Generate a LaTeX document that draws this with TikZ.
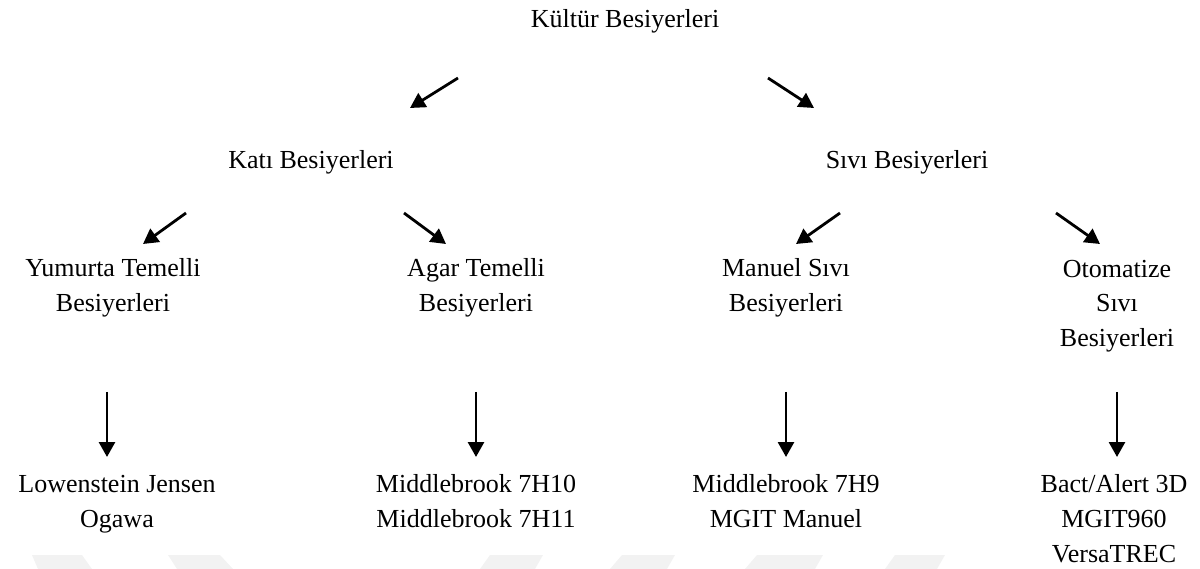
\documentclass[tikz,border=0pt]{standalone}
\usepackage{fontspec}
\setmainfont{Liberation Serif}
\usetikzlibrary{arrows.meta}
\begin{document}
\begin{tikzpicture}[x=1pt,y=-1pt,
  lbl/.style={inner sep=0pt, anchor=base, align=center,
    font=\fontsize{26}{35}\selectfont},
  arr/.style={line width=2.8pt, -{Triangle[length=15pt,width=16pt]}},
  wm/.style={fill=black!5, draw=none}]
\useasboundingbox (0,0) rectangle (1200,569);
% faint watermark shapes
\fill[wm] (32,555) -- (82,555) -- (92,569) -- (38,569) -- cycle;
\fill[wm] (168,555) -- (220,555) -- (233,569) -- (177,569) -- cycle;
\fill[wm] (490,555) -- (543,555) -- (535,569) -- (480,569) -- cycle;
\fill[wm] (622,555) -- (675,555) -- (667,569) -- (610,569) -- cycle;
\fill[wm] (757,555) -- (823,555) -- (815,569) -- (745,569) -- cycle;
\fill[wm] (895,555) -- (945,555) -- (937,569) -- (885,569) -- cycle;
% nodes (base = baseline of the last line)
\node[lbl] (kultur) at (625,28) {Kültür Besiyerleri};
\node[lbl] (kati) at (311,169) {Katı Besiyerleri};
\node[lbl] (sivi) at (907,169) {Sıvı Besiyerleri};
\node[lbl] (yum) at (113,312) {Yumurta Temelli\\Besiyerleri};
\node[lbl] (agar) at (476,312) {Agar Temelli\\Besiyerleri};
\node[lbl] (man) at (786,312) {Manuel Sıvı\\Besiyerleri};
\node[lbl] (oto) at (1117,347) {Otomatize\\Sıvı\\Besiyerleri};
\node[lbl] (lj) at (117,527) {Lowenstein Jensen\\Ogawa};
\node[lbl] (mb10) at (476,527) {Middlebrook 7H10\\Middlebrook 7H11};
\node[lbl] (mb9) at (786,527) {Middlebrook 7H9\\MGIT Manuel};
\node[lbl] (bact) at (1114,562) {Bact/Alert 3D\\MGIT960\\VersaTREC};
% arrow end points
\coordinate (a1s) at (458,78);  \coordinate (a1e) at (410,108);
\coordinate (a2s) at (768,78);  \coordinate (a2e) at (814,108);
\coordinate (b1s) at (186,213); \coordinate (b1e) at (143,244);
\coordinate (b2s) at (404,213); \coordinate (b2e) at (446,244);
\coordinate (b3s) at (840,213); \coordinate (b3e) at (796,244);
\coordinate (b4s) at (1056,213);\coordinate (b4e) at (1100,244);
\coordinate (c1s) at (107,392); \coordinate (c1e) at (107,457);
\coordinate (c2s) at (476,392); \coordinate (c2e) at (476,457);
\coordinate (c3s) at (786,392); \coordinate (c3e) at (786,457);
\coordinate (c4s) at (1117,392);\coordinate (c4e) at (1117,457);
\draw[arr] (a1s) -- (a1e);
\draw[arr] (a2s) -- (a2e);
\draw[arr] (b1s) -- (b1e);
\draw[arr] (b2s) -- (b2e);
\draw[arr] (b3s) -- (b3e);
\draw[arr] (b4s) -- (b4e);
\draw[arr] (c1s) -- (c1e);
\draw[arr] (c2s) -- (c2e);
\draw[arr] (c3s) -- (c3e);
\draw[arr] (c4s) -- (c4e);
\end{tikzpicture}
\end{document}
